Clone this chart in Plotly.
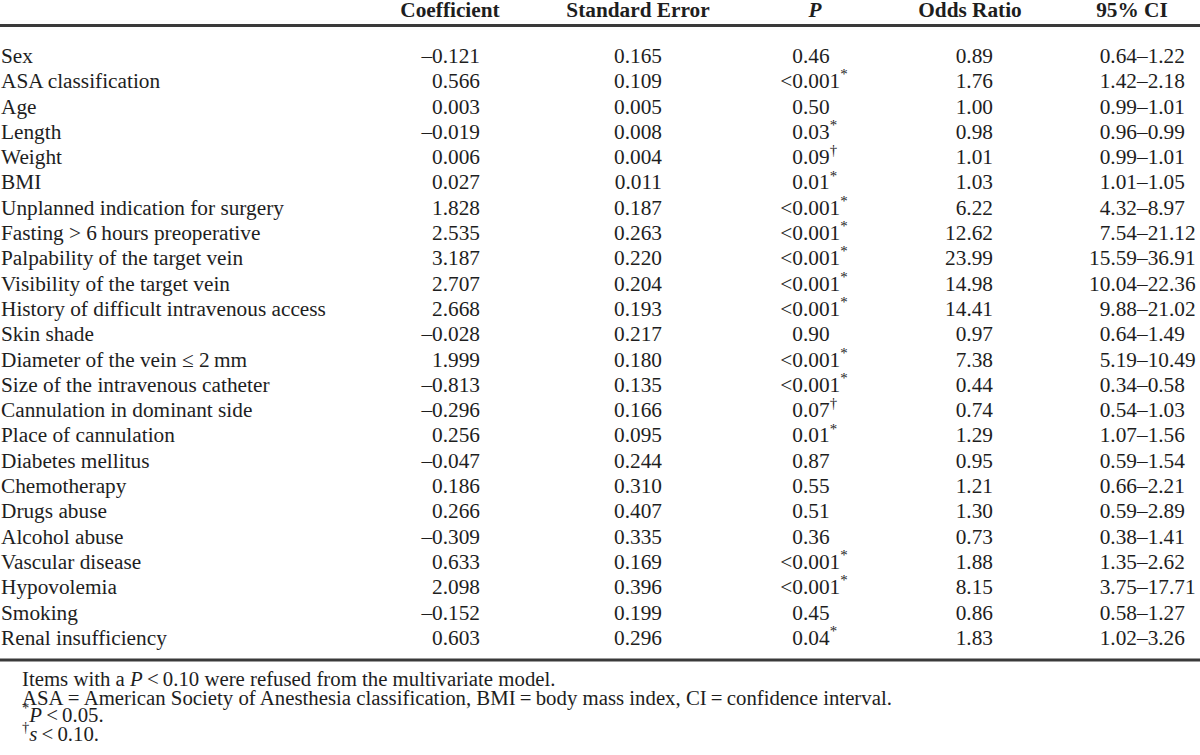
import plotly.graph_objects as go

# ---------------- data ----------------
variables = [
    "Sex", "ASA classification", "Age", "Length", "Weight", "BMI",
    "Unplanned indication for surgery", "Fasting > 6\u2009hours preoperative",
    "Palpability of the target vein", "Visibility of the target vein",
    "History of difficult intravenous access", "Skin shade",
    "Diameter of the vein \u2264 2\u2009mm", "Size of the intravenous catheter",
    "Cannulation in dominant side", "Place of cannulation", "Diabetes mellitus",
    "Chemotherapy", "Drugs abuse", "Alcohol abuse", "Vascular disease",
    "Hypovolemia", "Smoking", "Renal insufficiency",
]
coefficients = [-0.121, 0.566, 0.003, -0.019, 0.006, 0.027, 1.828, 2.535, 3.187,
                2.707, 2.668, -0.028, 1.999, -0.813, -0.296, 0.256, -0.047, 0.186,
                0.266, -0.309, 0.633, 2.098, -0.152, 0.603]
std_errors = [0.165, 0.109, 0.005, 0.008, 0.004, 0.011, 0.187, 0.263, 0.220, 0.204,
              0.193, 0.217, 0.180, 0.135, 0.166, 0.095, 0.244, 0.310, 0.407, 0.335,
              0.169, 0.396, 0.199, 0.296]
p_values = ["0.46", "<0.001", "0.50", "0.03", "0.09", "0.01", "<0.001", "<0.001",
            "<0.001", "<0.001", "<0.001", "0.90", "<0.001", "<0.001", "0.07", "0.01",
            "0.87", "0.55", "0.51", "0.36", "<0.001", "<0.001", "0.45", "0.04"]
p_marks = ["", "*", "", "*", "\u2020", "*", "*", "*", "*", "*", "*", "", "*", "*",
           "\u2020", "*", "", "", "", "", "*", "*", "", "*"]
odds_ratios = [0.89, 1.76, 1.00, 0.98, 1.01, 1.03, 6.22, 12.62, 23.99, 14.98, 14.41,
               0.97, 7.38, 0.44, 0.74, 1.29, 0.95, 1.21, 1.30, 0.73, 1.88, 8.15, 0.86, 1.83]
ci_low = [0.64, 1.42, 0.99, 0.96, 0.99, 1.01, 4.32, 7.54, 15.59, 10.04, 9.88, 0.64,
          5.19, 0.34, 0.54, 1.07, 0.59, 0.66, 0.59, 0.38, 1.35, 3.75, 0.58, 1.02]
ci_high = [1.22, 2.18, 1.01, 0.99, 1.01, 1.05, 8.97, 21.12, 36.91, 22.36, 21.02, 1.49,
           10.49, 0.58, 1.03, 1.56, 1.54, 2.21, 2.89, 1.41, 2.62, 17.71, 1.27, 3.26]
headers = ["Coefficient", "Standard Error", "<i>P</i>", "Odds Ratio", "95% CI"]
footnotes = [
    "Items with a <i>P</i>\u2009&lt;\u20090.10 were refused from the multivariate model.",
    "ASA\u2009=\u2009American Society of Anesthesia classification, BMI\u2009=\u2009body mass index, CI\u2009=\u2009confidence interval.",
    "<sup>*</sup><i>P</i>\u2009&lt;\u20090.05.",
    "<sup>\u2020</sup><i>s</i>\u2009&lt;\u20090.10.",
]

# ---------------- layout constants ----------------
W, H = 1200, 755
FONT = "Liberation Serif, Times New Roman, serif"
FS = 21.3
FS_NOTE = 20.8
INK = "#1e1e1e"
ROW_BASE0 = 63.0      # baseline of first body row (px)
ROW_H = 25.3          # row pitch (px)
SHIFT = 0.25          # baseline offset below text point (em)
X_LABEL = 1.0
X_COEF_R = 480
X_SE_R = 662
X_P_DEC = 803
X_OR_R = 993
X_CI_DASH = 1137
HEAD_X = [450, 638, 815, 970, 1132]
HEAD_BASE = 17
RULE_TOP = 25.5
RULE_BOT = 660
NOTE_X = 22
NOTE_BASE = [686, 705, 722, 741]

n = len(variables)
row_y = [ROW_BASE0 + i * ROW_H - SHIFT * FS for i in range(n)]


def dash(v):
    return f"{v:.3f}".replace("-", "\u2013")


coef_txt = [dash(v) for v in coefficients]
se_txt = [f"{v:.3f}" for v in std_errors]
p_left = [s.split(".")[0].replace("<", "&lt;") for s in p_values]
p_right = ["." + s.split(".")[1] + (f"<sup>{m}</sup>" if m else "") for s, m in zip(p_values, p_marks)]
or_txt = [f"{v:.2f}" for v in odds_ratios]
ci_lo_txt = [f"{v:.2f}" for v in ci_low]
ci_hi_txt = ["\u2013" + f"{v:.2f}" for v in ci_high]

fig = go.Figure()


def add_col(xpos, texts, pos, size=FS, ys=None):
    fig.add_trace(go.Scatter(
        x=[xpos] * len(texts), y=ys if ys is not None else row_y, text=texts,
        mode="text", textposition=pos, hoverinfo="skip", showlegend=False,
        cliponaxis=False,
        textfont=dict(family=FONT, size=size, color=INK),
    ))


add_col(X_LABEL, variables, "middle right")
add_col(X_COEF_R, coef_txt, "middle left")
add_col(X_SE_R, se_txt, "middle left")
add_col(X_P_DEC, p_left, "middle left")
add_col(X_P_DEC, p_right, "middle right")
add_col(X_OR_R, or_txt, "middle left")
add_col(X_CI_DASH, ci_lo_txt, "middle left")
add_col(X_CI_DASH, ci_hi_txt, "middle right")

# header
fig.add_trace(go.Scatter(
    x=HEAD_X, y=[HEAD_BASE - SHIFT * FS] * len(HEAD_X),
    text=[f"<b>{h}</b>" for h in headers], mode="text", textposition="middle center",
    hoverinfo="skip", showlegend=False, cliponaxis=False,
    textfont=dict(family=FONT, size=FS, color=INK),
))

# footnotes
fig.add_trace(go.Scatter(
    x=[NOTE_X] * len(footnotes), y=[b - SHIFT * FS_NOTE for b in NOTE_BASE],
    text=footnotes, mode="text", textposition="middle right",
    hoverinfo="skip", showlegend=False, cliponaxis=False,
    textfont=dict(family=FONT, size=FS_NOTE, color=INK),
))

for yy, lw in [(RULE_TOP, 2.8), (RULE_BOT, 3.2)]:
    fig.add_shape(type="line", xref="x", yref="y", x0=0, x1=W, y0=yy, y1=yy,
                  line=dict(color="#3a3a3a", width=lw))

fig.update_layout(
    width=W, height=H, margin=dict(l=0, r=0, t=0, b=0),
    paper_bgcolor="white", plot_bgcolor="white",
    xaxis=dict(range=[0, W], visible=False, fixedrange=True),
    yaxis=dict(range=[H, 0], visible=False, fixedrange=True),
)

fig.write_html(
    "out.html",
    config={"displayModeBar": False},
    post_script="document.body.style.margin='0';document.body.style.overflow='hidden';",
)
